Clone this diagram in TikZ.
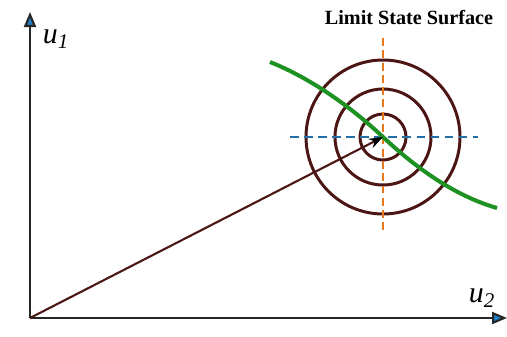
\documentclass[tikz,border=0pt]{standalone}
\usepackage{amsmath}
\usepackage{fontspec}
\newfontfamily\titlefont{Liberation Serif}
\usepackage{tikz}
\usetikzlibrary{arrows.meta,positioning,calc}
\definecolor{ringbrown}{RGB}{75,22,20}
\definecolor{lsgreen}{RGB}{30,145,35}
\definecolor{axorange}{RGB}{232,120,25}
\definecolor{axblue}{RGB}{35,110,165}
\definecolor{tipblue}{RGB}{30,125,195}

\begin{document}
\begin{tikzpicture}[x=0.02cm,y=0.02cm,
  axis/.style={draw=black!85,line width=1.2pt,
    -{Triangle[length=0.3cm,width=0.24cm,fill=tipblue]}},
  ring/.style={draw=ringbrown,line width=1.7pt},
  vdash/.style={draw=axorange,line width=1.2pt,dash pattern=on 4.5pt off 2.5pt},
  hdash/.style={draw=axblue,line width=1.2pt,dash pattern=on 5pt off 3pt},
  lsf/.style={draw=lsgreen,line width=2.3pt},
  ulabel/.style={font=\fontsize{17}{19}\titlefont\itshape,inner sep=0pt}
]
  \useasboundingbox (0,0) rectangle (507,336);
  % axes
  \coordinate (O) at (30,18);
  \coordinate (u1tip) at (30,324);
  \coordinate (u2tip) at (507,18);
  \draw[axis] (O) -- (u1tip);
  \draw[axis] (O) -- (u2tip);
  \node[ulabel] (u1) at (56,297) {u\textsubscript{1}};
  \node[ulabel] (u2) at (482,38) {u\textsubscript{2}};
  % rings around the design point
  \coordinate (c) at (383,199);
  \foreach \r/\nm in {23/inner,48/mid,77/outer}
    \draw[ring] (c) circle (\r);
  % dashed cross
  \coordinate (vtop) at (383,298);
  \coordinate (vbot) at (383,104);
  \coordinate (hl) at (290,199);
  \coordinate (hr) at (478,199);
  \draw[vdash] (vtop) -- (vbot);
  \draw[hdash] (hl) -- (hr);
  % limit state curve
  \coordinate (ls0) at (270,274);
  \coordinate (ls1) at (497,128);
  \draw[lsf] (ls0) .. controls (310,258) and (350,230) .. (c)
    .. controls (416,168) and (455,140) .. (ls1);
  % reliability vector
  \draw[draw=ringbrown,line width=1.2pt,-{Stealth[length=0.28cm,width=0.2cm,color=black]}]
    (O) -- (c);
  \node[font=\fontsize{11.5}{13}\titlefont\bfseries] (lss) at (409,318) {Limit State Surface};
\end{tikzpicture}
\end{document}
